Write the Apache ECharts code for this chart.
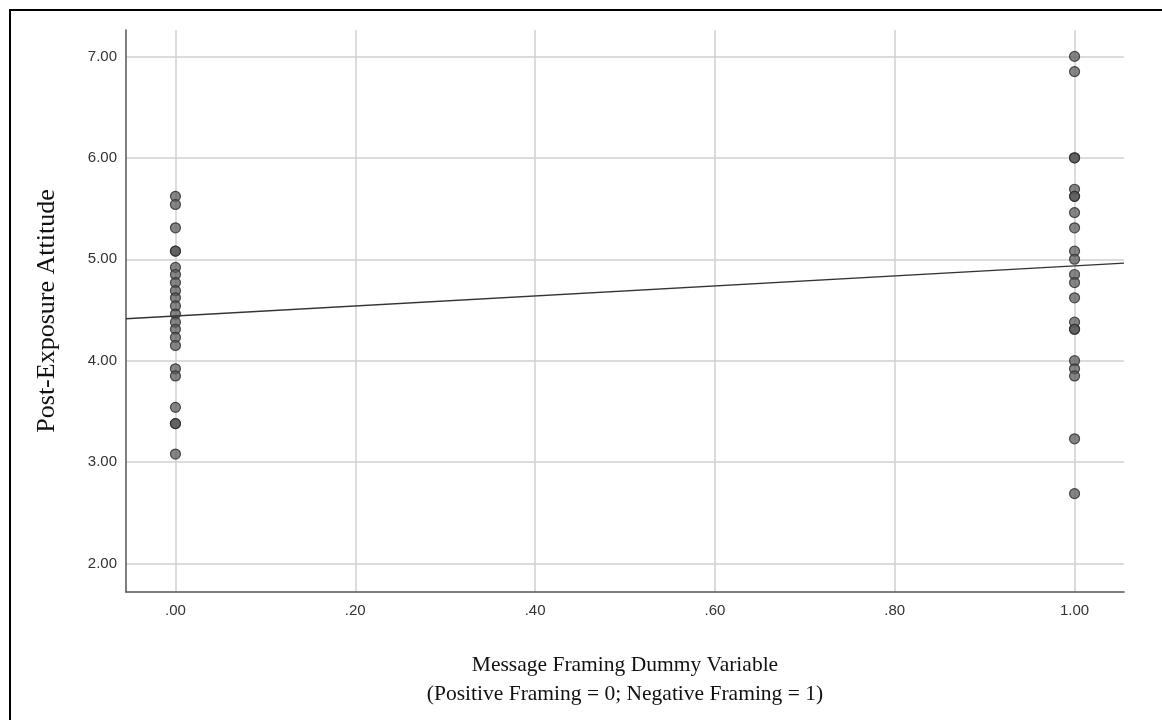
<!DOCTYPE html>
<html>
<head>
<meta charset="utf-8">
<script src="https://cdn.jsdelivr.net/npm/echarts@6/dist/echarts.min.js"></script>
<style>
  html, body { margin: 0; padding: 0; background: #fff; }
  #chart { width: 1162px; height: 720px; }
</style>
</head>
<body>
<div id="chart"></div>
<script>
// Post-exposure attitude scores (13-item means) by framing condition
const positiveFraming = [5.62, 5.54, 5.31, 5.08, 5.08, 4.92, 4.85, 4.77, 4.69, 4.62, 4.54,
  4.46, 4.38, 4.31, 4.23, 4.15, 3.92, 3.85, 3.54, 3.38, 3.38, 3.08];
const negativeFraming = [7.00, 6.85, 6.00, 6.00, 5.69, 5.62, 5.62, 5.46, 5.31, 5.08, 5.00,
  4.85, 4.77, 4.62, 4.38, 4.31, 4.31, 4.00, 3.92, 3.85, 3.23, 2.69];

const xTicks = [0, 0.2, 0.4, 0.6, 0.8, 1.0];
const yTicks = [2, 3, 4, 5, 6, 7];
const xRange = [-0.055, 1.055];
const yRange = [1.72, 7.26];

// Scatter points: dummy code 0 = positive framing, 1 = negative framing
const points = positiveFraming.map(v => [0, v]).concat(negativeFraming.map(v => [1, v]));

// Ordinary least-squares fit of attitude on the dummy variable
function olsFit(pts) {
  const n = pts.length;
  const mx = pts.reduce((s, p) => s + p[0], 0) / n;
  const my = pts.reduce((s, p) => s + p[1], 0) / n;
  let sxy = 0, sxx = 0;
  pts.forEach(p => { sxy += (p[0] - mx) * (p[1] - my); sxx += (p[0] - mx) * (p[0] - mx); });
  const slope = sxy / sxx;
  return { slope, intercept: my - slope * mx };
}
const fit = olsFit(points);
const fitLine = xRange.map(x => [x, fit.intercept + fit.slope * x]);

const fmt = v => {
  const s = v.toFixed(2);
  return s.startsWith('0') ? s.slice(1) : s;
};

const chart = echarts.init(document.getElementById('chart'), null, { renderer: 'canvas' });
chart.setOption({
  backgroundColor: '#ffffff',
  animation: false,
  graphic: [{
    type: 'rect',
    shape: { x: 10, y: 10, width: 1300, height: 900 },
    style: { fill: 'none', stroke: '#000', lineWidth: 2 },
    silent: true,
    z: 100
  }],
  grid: { left: 126, right: 38, top: 30, bottom: 128 },
  xAxis: {
    type: 'value',
    min: xRange[0],
    max: xRange[1],
    name: 'Message Framing Dummy Variable\n(Positive Framing = 0; Negative Framing = 1)',
    nameLocation: 'middle',
    nameGap: 59,
    nameTextStyle: { fontFamily: 'Liberation Serif', fontSize: 21.5, color: '#111', lineHeight: 29 },
    axisLine: { show: true, onZero: false, lineStyle: { color: '#555', width: 1.5 } },
    axisTick: { show: false, customValues: xTicks },
    axisLabel: {
      customValues: xTicks,
      formatter: fmt,
      margin: 11,
      fontFamily: 'Liberation Sans',
      fontSize: 15,
      color: '#333'
    },
    splitLine: { show: true, lineStyle: { color: '#d0d0d0', width: 1.5 } }
  },
  yAxis: {
    type: 'value',
    min: yRange[0],
    max: yRange[1],
    name: 'Post-Exposure Attitude',
    nameLocation: 'middle',
    nameGap: 66,
    nameTextStyle: { fontFamily: 'Liberation Serif', fontSize: 26, color: '#111' },
    axisLine: { show: true, onZero: false, lineStyle: { color: '#555', width: 1.5 } },
    axisTick: { show: false, customValues: yTicks },
    axisLabel: {
      customValues: yTicks,
      formatter: fmt,
      margin: 9,
      fontFamily: 'Liberation Sans',
      fontSize: 15,
      color: '#333'
    },
    splitLine: { show: true, lineStyle: { color: '#d0d0d0', width: 1.5 } }
  },
  series: [
    {
      type: 'scatter',
      data: points,
      symbol: 'circle',
      symbolSize: 10,
      itemStyle: { color: 'rgba(88,88,88,0.9)', borderColor: '#2a2a2a', borderWidth: 1.2 },
      z: 3
    },
    {
      type: 'line',
      data: fitLine,
      symbol: 'none',
      lineStyle: { color: '#333', width: 1.3 },
      z: 4
    }
  ]
});
</script>
</body>
</html>
